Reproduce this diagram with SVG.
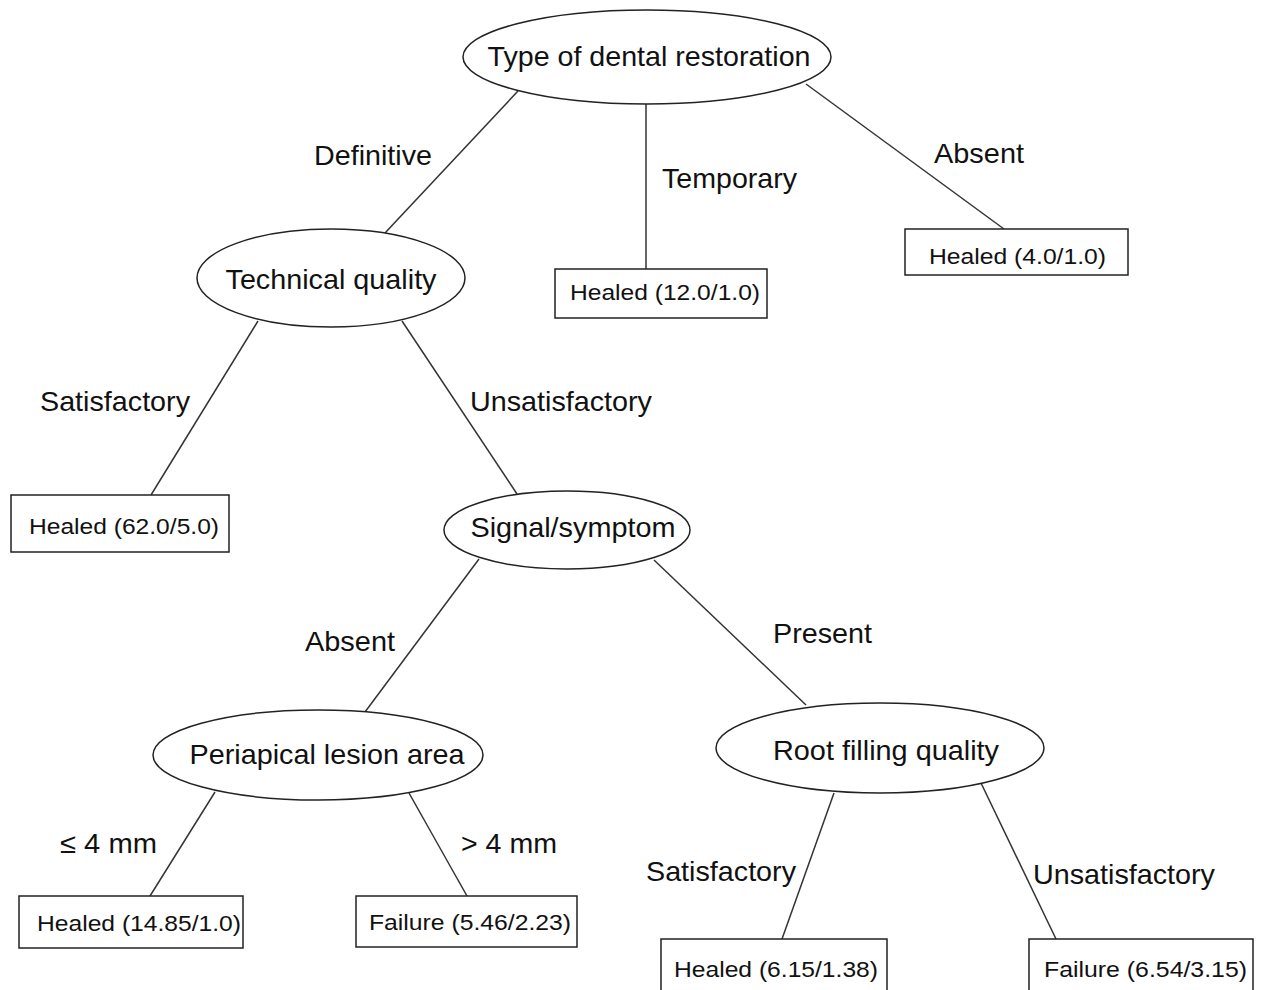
<svg xmlns="http://www.w3.org/2000/svg" width="1265" height="990" viewBox="0 0 1265 990">
  <style>
    .node ellipse, .leaf rect { fill: #ffffff; stroke: #222222; stroke-width: 1.5; }
    .edges line { stroke: #333333; stroke-width: 1.5; }
    text { font-family: "Liberation Sans", Arial, sans-serif; fill: #111111; }
    .nt { font-size: 28px; text-anchor: middle; }
    .lt { font-size: 22px; }
    .el { font-size: 28px; }
  </style>
  <rect width="1265" height="990" fill="#ffffff"/>

  <!-- connectors between decision nodes and leaves -->
  <g id="connectors" class="edges">
    <line x1="518" y1="91" x2="385" y2="233"/>
    <line x1="646" y1="104" x2="646" y2="269"/>
    <line x1="806" y1="84" x2="1004" y2="229"/>
    <line x1="258" y1="321" x2="151" y2="495"/>
    <line x1="402" y1="321" x2="517" y2="494"/>
    <line x1="479" y1="559" x2="365" y2="712"/>
    <line x1="654" y1="560" x2="806" y2="705"/>
    <line x1="215" y1="792" x2="150" y2="896"/>
    <line x1="409" y1="793" x2="467" y2="896"/>
    <line x1="834" y1="793" x2="782" y2="939"/>
    <line x1="981" y1="783" x2="1056" y2="939"/>
  </g>

  <!-- branch labels -->
  <g id="edge-labels">
    <text class="el" x="314" y="165" textLength="118" lengthAdjust="spacingAndGlyphs">Definitive</text>
    <text class="el" x="662" y="188" textLength="135" lengthAdjust="spacingAndGlyphs">Temporary</text>
    <text class="el" x="934" y="163" textLength="90" lengthAdjust="spacingAndGlyphs">Absent</text>
    <text class="el" x="40" y="411" textLength="150" lengthAdjust="spacingAndGlyphs">Satisfactory</text>
    <text class="el" x="470" y="411" textLength="182" lengthAdjust="spacingAndGlyphs">Unsatisfactory</text>
    <text class="el" x="305" y="651" textLength="90" lengthAdjust="spacingAndGlyphs">Absent</text>
    <text class="el" x="773" y="643" textLength="99" lengthAdjust="spacingAndGlyphs">Present</text>
    <text class="el" x="60" y="853" textLength="97" lengthAdjust="spacingAndGlyphs">≤ 4 mm</text>
    <text class="el" x="461" y="853" textLength="96" lengthAdjust="spacingAndGlyphs">&gt; 4 mm</text>
    <text class="el" x="646" y="881" textLength="150" lengthAdjust="spacingAndGlyphs">Satisfactory</text>
    <text class="el" x="1033" y="884" textLength="182" lengthAdjust="spacingAndGlyphs">Unsatisfactory</text>
  </g>

  <!-- decision nodes -->
  <g id="node-restoration" class="node">
    <ellipse cx="647" cy="57" rx="184" ry="47"/>
    <text class="nt" x="649" y="66" textLength="323" lengthAdjust="spacingAndGlyphs">Type of dental restoration</text>
  </g>
  <g id="node-technical" class="node">
    <ellipse cx="331" cy="278" rx="134" ry="49"/>
    <text class="nt" x="331" y="289" textLength="211" lengthAdjust="spacingAndGlyphs">Technical quality</text>
  </g>
  <g id="node-signal" class="node">
    <ellipse cx="567" cy="530" rx="123" ry="39"/>
    <text class="nt" x="573" y="537" textLength="205" lengthAdjust="spacingAndGlyphs">Signal/symptom</text>
  </g>
  <g id="node-periapical" class="node">
    <ellipse cx="318" cy="755" rx="165" ry="45"/>
    <text class="nt" x="327" y="764" textLength="275" lengthAdjust="spacingAndGlyphs">Periapical lesion area</text>
  </g>
  <g id="node-rootfilling" class="node">
    <ellipse cx="880" cy="748" rx="164" ry="45"/>
    <text class="nt" x="886" y="760" textLength="226" lengthAdjust="spacingAndGlyphs">Root filling quality</text>
  </g>

  <!-- leaves -->
  <g id="leaf-temporary" class="leaf">
    <rect x="555" y="269" width="212" height="49"/>
    <text class="lt" x="570" y="300" textLength="190" lengthAdjust="spacingAndGlyphs">Healed (12.0/1.0)</text>
  </g>
  <g id="leaf-absent" class="leaf">
    <rect x="905" y="229" width="223" height="46"/>
    <text class="lt" x="929" y="264" textLength="177" lengthAdjust="spacingAndGlyphs">Healed (4.0/1.0)</text>
  </g>
  <g id="leaf-satisfactory" class="leaf">
    <rect x="11" y="495" width="218" height="57"/>
    <text class="lt" x="29" y="534" textLength="190" lengthAdjust="spacingAndGlyphs">Healed (62.0/5.0)</text>
  </g>
  <g id="leaf-small-lesion" class="leaf">
    <rect x="19" y="896" width="224" height="52"/>
    <text class="lt" x="37" y="931" textLength="204" lengthAdjust="spacingAndGlyphs">Healed (14.85/1.0)</text>
  </g>
  <g id="leaf-large-lesion" class="leaf">
    <rect x="356" y="896" width="221" height="51"/>
    <text class="lt" x="369" y="930" textLength="202" lengthAdjust="spacingAndGlyphs">Failure (5.46/2.23)</text>
  </g>
  <g id="leaf-root-satisfactory" class="leaf">
    <rect x="661" y="939" width="226" height="60"/>
    <text class="lt" x="674" y="977" textLength="204" lengthAdjust="spacingAndGlyphs">Healed (6.15/1.38)</text>
  </g>
  <g id="leaf-root-unsatisfactory" class="leaf">
    <rect x="1029" y="939" width="224" height="60"/>
    <text class="lt" x="1044" y="977" textLength="203" lengthAdjust="spacingAndGlyphs">Failure (6.54/3.15)</text>
  </g>
</svg>
